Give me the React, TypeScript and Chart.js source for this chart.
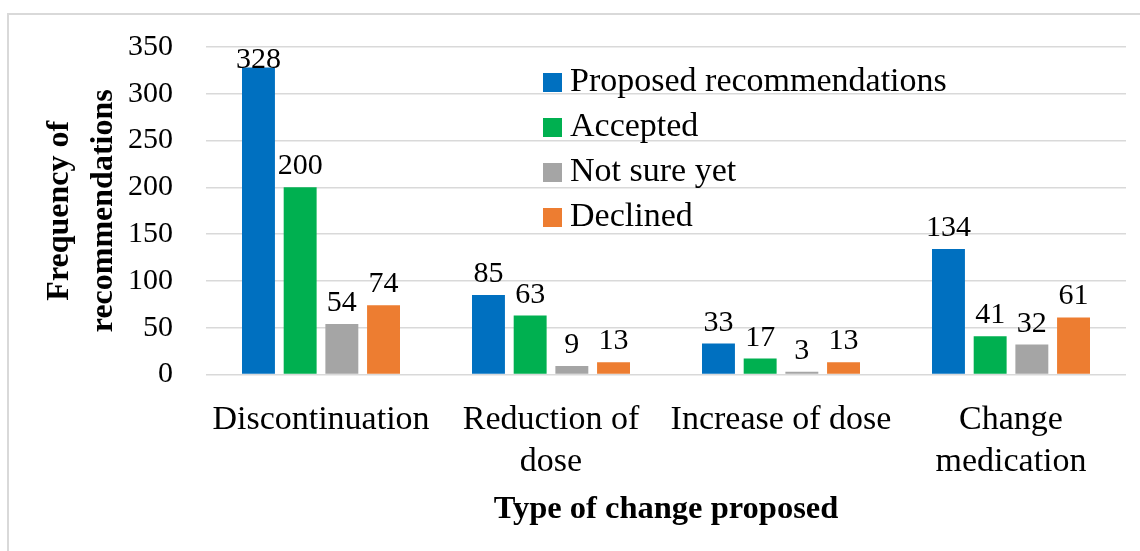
import React, { useEffect, useRef } from "react";
import { Chart, registerables } from "chart.js";

Chart.register(...registerables);

// Categories of proposed change (multi-line labels as drawn under the axis)
const categories: string[][] = [
  ["Discontinuation"],
  ["Reduction of", "dose"],
  ["Increase of dose"],
  ["Change", "medication"],
];

// Series values per category
const proposed = [328, 85, 33, 134];
const accepted = [200, 63, 17, 41];
const notSureYet = [54, 9, 3, 32];
const declined = [74, 13, 13, 61];

const seriesNames = ["Proposed recommendations", "Accepted", "Not sure yet", "Declined"];
const seriesColors = ["#0070C0", "#00B050", "#A5A5A5", "#ED7D31"];

// Value axis range
const yMin = 0;
const yMax = 350;
const yStep = 50;

const FONT = "'Liberation Serif', 'Times New Roman', serif";

// Draws the numeric value above each bar
const valueLabels = {
  id: "valueLabels",
  afterDatasetsDraw(chart: any) {
    const { ctx, chartArea } = chart;
    ctx.save();
    ctx.font = `30px ${FONT}`;
    ctx.fillStyle = "#000000";
    ctx.textAlign = "center";
    ctx.textBaseline = "alphabetic";
    chart.data.datasets.forEach((ds: any, i: number) => {
      const meta = chart.getDatasetMeta(i);
      meta.data.forEach((bar: any, j: number) => {
        const y = Math.max(bar.y - 13, chartArea.top + 20.5);
        ctx.fillText(String(ds.data[j]), bar.x, y);
      });
    });
    ctx.restore();
  },
};

// Legend placed inside the plot area, one series per row
const insideLegend = {
  id: "insideLegend",
  afterDraw(chart: any) {
    const { ctx, chartArea } = chart;
    const x0 = chartArea.left + 337;
    const y0 = chartArea.top + 26;
    const rowGap = 45;
    const box = 19;
    ctx.save();
    ctx.font = `34px ${FONT}`;
    ctx.textAlign = "left";
    ctx.textBaseline = "alphabetic";
    chart.data.datasets.forEach((ds: any, i: number) => {
      const top = y0 + i * rowGap;
      ctx.fillStyle = ds.backgroundColor;
      ctx.fillRect(x0, top, box, box);
      ctx.fillStyle = "#000000";
      ctx.fillText(ds.label, x0 + box + 8, top + 17.5);
    });
    ctx.restore();
  },
};

export default function App() {
  const canvasRef = useRef<HTMLCanvasElement | null>(null);

  useEffect(() => {
    if (!canvasRef.current) return;
    const seriesData = [proposed, accepted, notSureYet, declined];
    const chart = new Chart(canvasRef.current, {
      type: "bar",
      data: {
        labels: categories,
        datasets: seriesData.map((values, i) => ({
          label: seriesNames[i],
          data: values,
          backgroundColor: seriesColors[i],
          borderWidth: 0,
          categoryPercentage: 0.725,
          barPercentage: 0.79,
        })),
      },
      options: {
        responsive: false,
        animation: false,
        devicePixelRatio: 1,
        layout: { padding: { top: 47, right: 14, left: 0, bottom: 0 } },
        plugins: {
          legend: { display: false },
          tooltip: { enabled: false },
        },
        scales: {
          x: {
            grid: { display: false },
            border: { display: false },
            ticks: {
              color: "#000000",
              font: { family: FONT, size: 34, lineHeight: "42px" },
              padding: 17,
              autoSkip: false,
              maxRotation: 0,
              minRotation: 0,
            },
            title: {
              display: true,
              text: "Type of change proposed",
              color: "#000000",
              font: { family: FONT, size: 32.5, weight: "bold" },
              padding: { top: 0, bottom: 22 },
            },
            afterFit(scale: any) {
              scale.height = 176.5;
            },
          },
          y: {
            min: yMin,
            max: yMax,
            grid: { color: "#d9d9d9", lineWidth: 1.5, drawTicks: false },
            border: { display: false },
            ticks: {
              stepSize: yStep,
              color: "#000000",
              font: { family: FONT, size: 30 },
              padding: 33,
            },
            title: {
              display: true,
              text: ["Frequency of", "recommendations"],
              color: "#000000",
              font: { family: FONT, size: 32, weight: "bold", lineHeight: "44px" },
              padding: { top: 38, bottom: 0 },
            },
            afterFit(scale: any) {
              scale.width = 206;
              // the horizontal tick gap should not push the plot area down
              scale.paddingTop = 18;
              scale.paddingBottom = 18;
            },
          },
        },
      },
      plugins: [valueLabels, insideLegend],
    });
    return () => chart.destroy();
  }, []);

  return (
    <div style={{ position: "fixed", left: 0, top: 0, width: 1140, height: 551, background: "#ffffff" }}>
      <div
        style={{
          position: "absolute",
          left: 7,
          top: 13,
          width: 1140,
          height: 551,
          borderLeft: "2px solid #d9d9d9",
          borderTop: "2px solid #d9d9d9",
        }}
      />
      <canvas
        ref={canvasRef}
        width={1140}
        height={551}
        style={{ position: "absolute", left: 0, top: 0, display: "block" }}
      />
    </div>
  );
}
